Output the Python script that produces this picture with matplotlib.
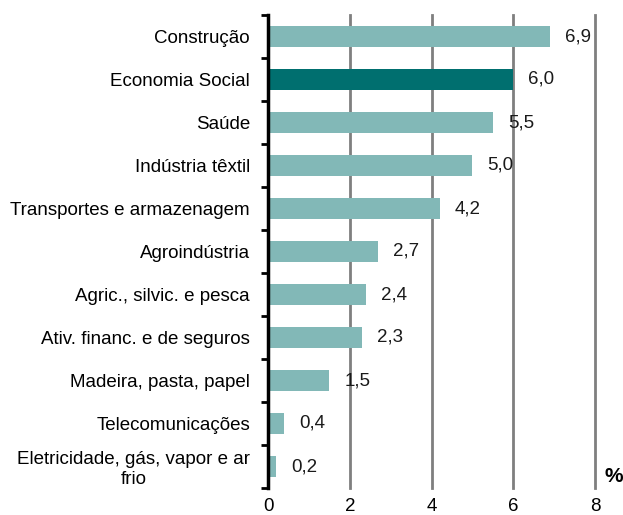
import matplotlib
matplotlib.use('Agg')
import matplotlib.pyplot as plt
import numpy as np

plt.rcParams['font.family'] = ['Liberation Sans', 'DejaVu Sans']

# Data
sectors = ['Construção', 'Economia Social', 'Saúde', 'Indústria têxtil',
           'Transportes e armazenagem', 'Agroindústria', 'Agric., silvic. e pesca',
           'Ativ. financ. e de seguros', 'Madeira, pasta, papel', 'Telecomunicações',
           'Eletricidade, gás, vapor e ar\nfrio']
values = [6.9, 6.0, 5.5, 5.0, 4.2, 2.7, 2.4, 2.3, 1.5, 0.4, 0.2]
value_labels = ['6,9', '6,0', '5,5', '5,0', '4,2', '2,7', '2,4', '2,3', '1,5', '0,4', '0,2']
highlight = 'Economia Social'
xticks = [0, 2, 4, 6, 8]

light = '#82B8B7'
dark = '#006F6F'

fig = plt.figure(figsize=(6.23, 5.15), dpi=100)
ax = fig.add_axes([268 / 623, 1 - 488 / 515, (595 - 268) / 623, (488 - 15) / 515])

ypos = np.arange(len(sectors))
colors = [dark if s == highlight else light for s in sectors]
ax.barh(ypos, values, height=0.47, color=colors, zorder=3)

for y, v, lab in zip(ypos, values, value_labels):
    ax.annotate(lab, (v, y), xytext=(15, 0), textcoords='offset pixels',
                va='center', ha='left', fontsize=13.5, color='#1a1a1a', zorder=4)

ax.set_xlim(0, 8)
ax.set_ylim(len(sectors) - 0.5, -0.5)
ax.set_xticks(xticks)
ax.set_xticklabels([str(t) for t in xticks], fontsize=13.5)
ax.tick_params(axis='x', length=0, pad=7)

ax.set_yticks(ypos)
ax.set_yticklabels(sectors, fontsize=13.5)
ax.set_yticks(np.arange(len(sectors) + 1) - 0.5, minor=True)
ax.tick_params(axis='y', which='major', length=0, pad=13)
ax.tick_params(axis='y', which='minor', length=5, width=2, color='black', direction='out')
for lab in ax.get_yticklabels():
    lab.set_multialignment('center')

ax.grid(axis='x', color='#7f7f7f', linewidth=2, zorder=1)
for gl in ax.get_xgridlines():
    gl.set_clip_on(False)
ax.grid(axis='y', visible=False)
for side in ['top', 'bottom', 'right']:
    ax.spines[side].set_visible(False)
ax.spines['left'].set_linewidth(2.5)
ax.spines['left'].set_zorder(5)

fig.text(614 / 623, 1 - 476 / 515, '%', fontsize=15, fontweight='bold',
         ha='center', va='center')

fig.savefig('out.png', dpi=100)
